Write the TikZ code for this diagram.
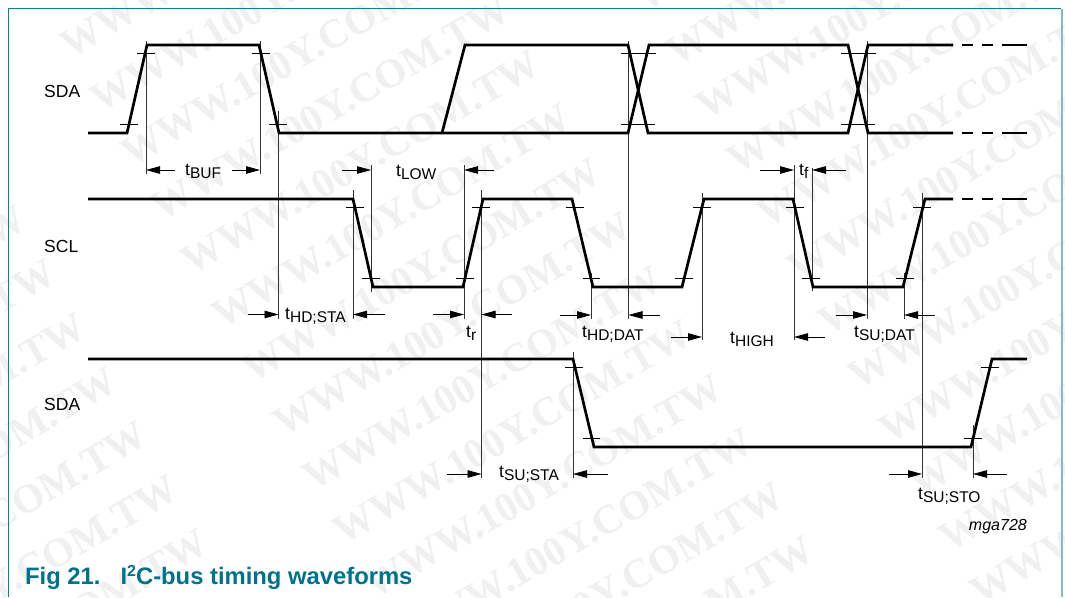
\documentclass[tikz,border=0pt]{standalone}
\usepackage{fontspec}
\setmainfont{Liberation Sans}
\newfontfamily\wmfont{Liberation Serif}
\usetikzlibrary{arrows.meta}
\definecolor{frameteal}{HTML}{0A7F99}
\definecolor{framelight}{HTML}{7FBDCB}
\definecolor{titleteal}{HTML}{00728C}
\definecolor{wmgray}{HTML}{F0F0F0}
\newcommand{\tlab}[1]{\fontsize{17.5}{18}\selectfont t\raisebox{-3.5pt}{\fontsize{15.5}{15.5}\selectfont #1}}
\tikzset{
  wave/.style={line width=2.7pt,line join=miter,line cap=butt,black},
  guide/.style={line width=0.8pt,black!80},
  tickmark/.style={line width=0.7pt,black},
  dimarrow/.style={line width=0.8pt,black,-{Triangle[length=14pt,width=7.5pt]}},
  siglabel/.style={anchor=base west,inner sep=0pt,font=\fontsize{17.5}{18}\selectfont},
  tlabel/.style={anchor=base west,inner sep=0pt},
  wm/.style={anchor=base west,inner sep=0pt,rotate=30,text=wmgray,font=\wmfont\bfseries\fontsize{41}{42}\selectfont}
}
\begin{document}
\begin{tikzpicture}[x=1pt,y=-1pt]
\useasboundingbox (0,0) rectangle (1065,597);
\fill[white] (0,0) rectangle (1065,597);
% watermark
\begin{scope}
\clip (0,0) rectangle (1065,597);
\foreach \i in {-2,...,3}{
  \foreach \j in {-11,...,12}{
    \pgfmathsetmacro{\bx}{283+\i*454+\j*30.4}
    \pgfmathsetmacro{\by}{437.5-\i*263+\j*54}
    \pgfmathtruncatemacro{\keep}{and(and(\bx>-360,\bx<1070),and(\by>-5,\by<800))}
    \ifnum\keep=1
      \node[wm] (wm\i x\j) at (\bx,\by) {WWW.100Y.COM.TW};
    \fi
  }
}
\end{scope}
% frame
\draw[frameteal,line width=1.2pt] (8.5,597) -- (8.5,8.5) -- (1061,8.5);
\draw[framelight,line width=2pt] (1061.5,8.5) -- (1061.5,597);
% guides
\foreach \x/\a/\b in {146/41/174,260/41/174,278.5/111/319,353/190/319,371/165/292,464/165/319,481.5/190/478,
  628.5/41/319,591/273/319,702/193/340,794/165/340,812/168/291,867/41/319,904/273/319,922/193/478,573/352/478,973/425/478}{
  \draw[guide] (\x,\a) -- (\x,\b);
}
% ticks
\foreach \x/\y in {129/124.5,146/53,261/53,278/124.5,630/124.5,647/53,630/53,646/124.5,850/124.5,867/53,850/53,866/124.5,
  355/207.5,371/278,465/278,481/207.5,575/207.5,591.5/278,684/278,702/207.5,795/207.5,811/278,905/278,922/207.5,
  574/367.5,591.5/438,973/438,990/367.5}{
  \draw[tickmark] (\x-8.8,\y) -- (\x+8.8,\y);
}
% waveforms
\draw[wave] (88,133) -- (127,133) -- (147,45) -- (259,45) -- (279,133) -- (628,133) -- (649,45) -- (848,45) -- (868,133) -- (953,133);
\draw[wave] (442,133) -- (465,45) -- (628,45) -- (648,133) -- (848,133) -- (868,45) -- (953,45);
\draw[wave] (88,199) -- (353,199) -- (373,287) -- (463,287) -- (483,199) -- (572,199) -- (593,287) -- (682,287) -- (704,199) -- (793,199) -- (813,287) -- (903,287) -- (925,199) -- (953,199);
\draw[wave] (88,359) -- (573,359) -- (594,447) -- (971,447) -- (992,359) -- (1027,359);
\foreach \y in {45,133,199}{
  \foreach \a/\b in {962/973,982/993,1002/1027}{
    \draw[wave] (\a,\y) -- (\b,\y);
  }
}
% dimension arrows
\foreach \a/\b/\y in {175/146/170,232/260/170,342/371/170,494/464/170,760/794/170,846/812/170,
  248/278.5/314.5,385/353/314.5,433/464/314.5,512/481.5/314.5,560/591/315,660/628.5/315,836/867/315,935/904/315,
  671/702/337,825/794/337,447/481.5/474,608/573/474,889/922/474,1007/973/474}{
  \draw[dimarrow] (\a,\y) -- (\b,\y);
}
% labels
\node[siglabel] (sda1) at (44,97) {SDA};
\node[siglabel] (scl) at (44,252) {SCL};
\node[siglabel] (sda2) at (44,410) {SDA};
\node[tlabel] (tbuf) at (185,175) {\tlab{BUF}};
\node[tlabel] (tlow) at (396,176) {\tlab{LOW}};
\node[tlabel] (tf) at (799,175) {\tlab{f}};
\node[tlabel] (thdsta) at (285,319) {\tlab{HD;STA}};
\node[tlabel] (tr) at (466,337) {\tlab{r}};
\node[tlabel] (thddat) at (582,337) {\tlab{HD;DAT}};
\node[tlabel] (thigh) at (730,343) {\tlab{HIGH}};
\node[tlabel] (tsudat) at (854,337) {\tlab{SU;DAT}};
\node[tlabel] (tsusta) at (499,477) {\tlab{SU;STA}};
\node[tlabel] (tsusto) at (918,499) {\tlab{SU;STO}};
\node[anchor=base east,inner sep=0pt,font=\itshape\fontsize{16}{16}\selectfont] (code) at (1027,530) {mga728};
\node[anchor=base west,inner sep=0pt,text=titleteal,font=\bfseries\fontsize{23.8}{25}\selectfont] (title) at (25,584) {Fig 21.\hspace{20pt}I\raisebox{7.5pt}{\fontsize{16}{16}\selectfont 2}C-bus timing waveforms};
\end{tikzpicture}
\end{document}
